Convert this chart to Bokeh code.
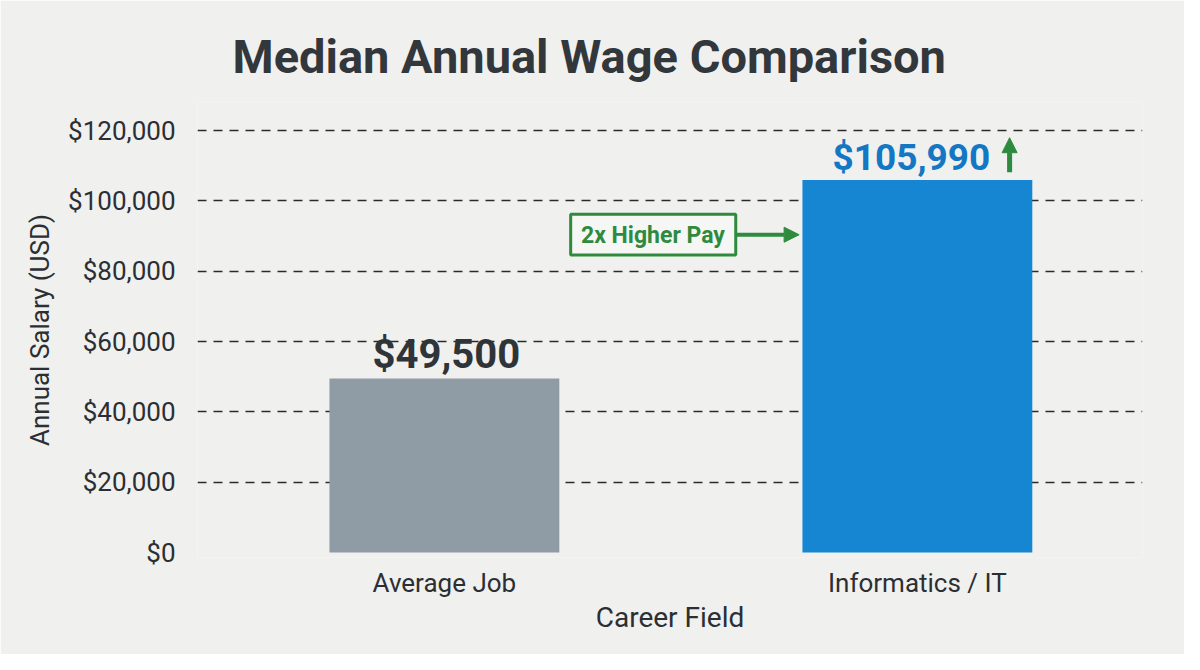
import numpy as np
from bokeh.plotting import figure
from bokeh.models import (Range1d, FixedTicker, NumeralTickFormatter,
                          ColumnDataSource, Arrow, NormalHead)
from bokeh.core.properties import value
from bokeh.embed import file_html
from bokeh.resources import INLINE

# ---- data ----
categories = ["Average Job", "Informatics / IT"]
wages = [49500, 105990]
bar_colors = ["#8f9ca5", "#1786d2"]
label_colors = ["#2f3438", "#1477c4"]
y_ticks = [0, 20000, 40000, 60000, 80000, 100000, 120000]
title_text = "Median Annual Wage Comparison"
y_title = "Annual Salary (USD)"
x_title = "Career Field"
callout_text = "2x Higher Pay"

# ---- style ----
BG = "#f0f0ef"
FONT = "Roboto"
GREEN = "#2e8b3e"
label_sizes = ["40px", "37px"]
label_dx = [2, -6]

xpos = np.arange(len(categories)) + 0.5

p = figure(width=1184, height=654, output_backend="svg", toolbar_location=None,
           x_range=Range1d(-0.022, 1.976),
           y_range=Range1d(-1400, 128000),
           min_border_left=197, min_border_right=42, min_border_top=102,
           min_border_bottom=97, outline_line_color=None,
           background_fill_color=BG, border_fill_color=BG)

# title
p.title.text = title_text
p.title.align = "left"
p.title.offset = 35
p.title.text_font = FONT
p.title.text_font_size = "47px"
p.title.text_font_style = "bold"
p.title.text_color = "#32373c"
p.title.standoff = 38

src = ColumnDataSource(dict(x=xpos, wage=wages, color=bar_colors,
                            lab=["${:,}".format(w) for w in wages],
                            lcol=label_colors, lsize=label_sizes, dx=label_dx))

p.vbar(x="x", top="wage", bottom=0, width=0.486, source=src,
       fill_color="color", line_color=None)

p.text(x="x", y="wage", text="lab", source=src, text_color="lcol",
       text_font=value(FONT), text_font_style="bold", text_font_size="lsize",
       text_align="center", text_baseline="bottom", y_offset=-1, x_offset="dx")

# green up arrow next to the IT label
p.add_layout(Arrow(end=NormalHead(size=15, fill_color=GREEN, line_color=GREEN),
                   x_start=1.695, y_start=wages[1] + 2200, x_end=1.695, y_end=wages[1] + 12000,
                   line_color=GREEN, line_width=5))

# callout box
p.quad(left=0.767, right=1.116, bottom=84600, top=96200, fill_color="#f6f7f5",
       line_color=GREEN, line_width=3)
p.text(x=[0.941], y=[90200], text=[callout_text], text_color=GREEN,
       text_font=value(FONT), text_font_style="bold", text_font_size="23px",
       text_align="center", text_baseline="middle")
p.add_layout(Arrow(end=NormalHead(size=15, fill_color=GREEN, line_color=GREEN),
                   x_start=1.116, y_start=90400, x_end=1.25, y_end=90400,
                   line_color=GREEN, line_width=4))

# axes
p.xaxis.ticker = FixedTicker(ticks=list(xpos))
p.xaxis.major_label_overrides = {float(x): c for x, c in zip(xpos, categories)}
p.yaxis.ticker = FixedTicker(ticks=y_ticks)
p.yaxis.formatter = NumeralTickFormatter(format="$0,0")
p.yaxis.axis_label = y_title
for ax in (p.xaxis[0], p.yaxis[0]):
    ax.axis_line_color = None
    ax.major_tick_line_color = None
    ax.minor_tick_line_color = None
    ax.major_label_text_font = FONT
    ax.major_label_text_font_size = "26px"
    ax.major_label_text_color = "#2b2f33"
    ax.axis_label_text_font = FONT
    ax.axis_label_text_font_style = "normal"
    ax.axis_label_text_color = "#2b2f33"
p.yaxis.axis_label_text_font_size = "26px"
p.xaxis.axis_label_text_font_size = "28px"
p.yaxis.major_label_standoff = 16
p.yaxis.axis_label_standoff = 10
p.xaxis.axis_label = x_title
p.xaxis.major_label_standoff = 4
p.xaxis.axis_label_standoff = 0

p.xgrid.grid_line_color = None
p.ygrid.ticker = FixedTicker(ticks=y_ticks[1:])
p.ygrid.grid_line_color = "#2a2a2a"
p.ygrid.grid_line_width = 1.5
p.ygrid.grid_line_dash = "9 7"

open("out.html", "w").write(file_html(p, INLINE))
